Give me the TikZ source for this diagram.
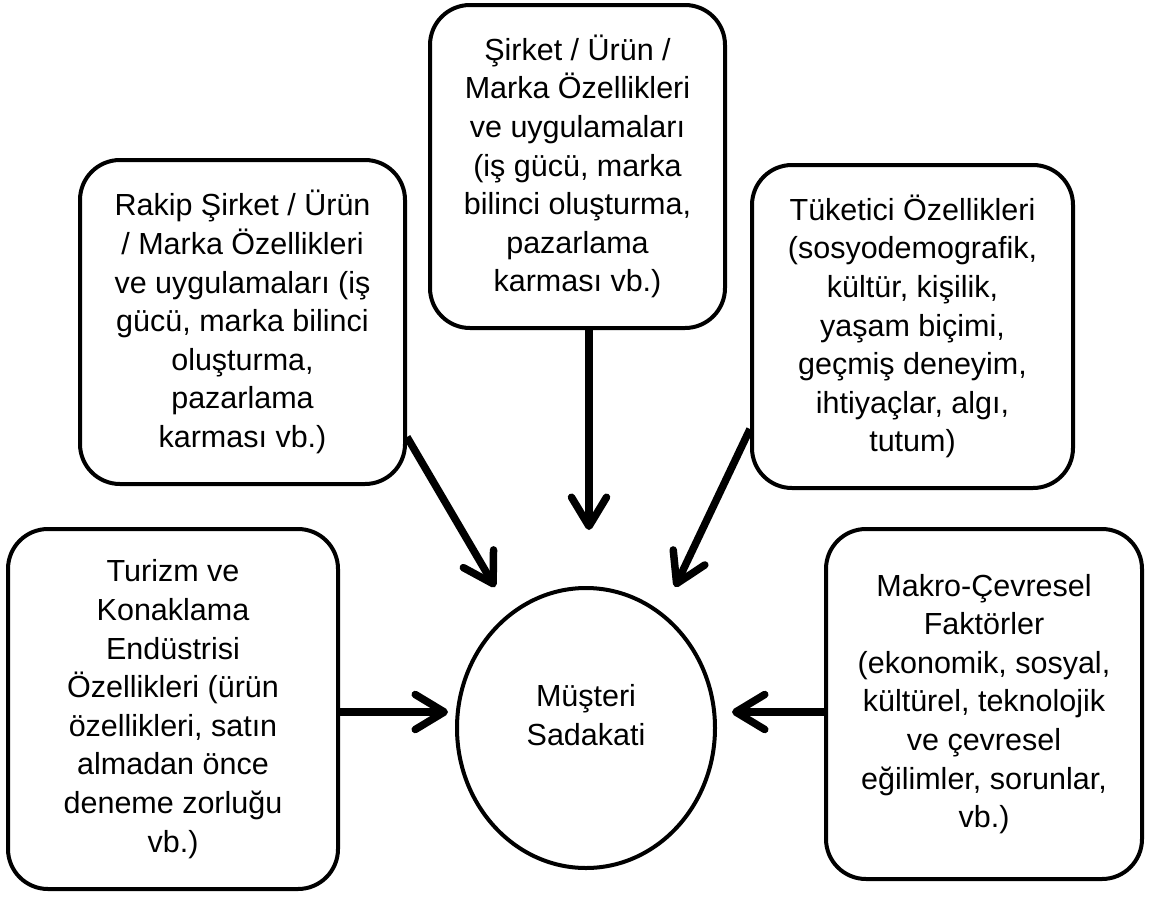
\documentclass[tikz,border=0pt]{standalone}
\usepackage{fontspec}
\setmainfont{Liberation Sans}
\usetikzlibrary{arrows.meta,shapes.geometric,calc}
\begin{document}
\begin{tikzpicture}[x=1pt,y=-1pt,
  txt/.style={align=center, font=\fontsize{30.5}{38.6}\selectfont},
  box/.style={txt, draw, line width=4pt, rounded corners=40pt, inner sep=0pt},
  oval/.style={draw, ellipse, line width=4pt, inner sep=0pt},
  arr/.style={line width=7.5pt, -{Straight Barb[length=29pt,width=35pt,round]}}]
\useasboundingbox (0,0) rectangle (1149,897);

% factor boxes
\node[box, minimum width=295pt, minimum height=323pt] (firm) at (577.5,166.5)
  {Şirket / Ürün /\\Marka Özellikleri\\ve uygulamaları\\(iş gücü, marka\\bilinci oluşturma,\\pazarlama\\karması vb.)};
\node[box, minimum width=325pt, minimum height=324pt] (rival) at (242.5,322)
  {Rakip Şirket / Ürün\\/ Marka Özellikleri\\ve uygulamaları (iş\\gücü, marka bilinci\\oluşturma,\\pazarlama\\karması vb.)};
\node[box, minimum width=321pt, minimum height=323pt] (consumer) at (912.5,326.5)
  {Tüketici Özellikleri\\(sosyodemografik,\\kültür, kişilik,\\yaşam biçimi,\\geçmiş deneyim,\\ihtiyaçlar, algı,\\tutum)};
\node[box, minimum width=330pt, minimum height=360pt] (tourism) at (173,709)
  {Turizm ve\\Konaklama\\Endüstrisi\\Özellikleri (ürün\\özellikleri, satın\\almadan önce\\deneme zorluğu\\vb.)};
\node[box, minimum width=316pt, minimum height=350pt] (macro) at (984,704)
  {Makro-Çevresel\\Faktörler\\(ekonomik, sosyal,\\kültürel, teknolojik\\ve çevresel\\eğilimler, sorunlar,\\vb.)};

% central outcome
\node[oval, minimum width=258pt, minimum height=280pt] (loyal) at (586,728) {};
\node[txt] (loyaltxt) at (586,715) {Müşteri\\Sadakati};

% arrow tips
\coordinate (tipT) at (589,530);
\coordinate (tipUL) at (495,587);
\coordinate (tipUR) at (675,587);
\coordinate (tipL) at (448,712);
\coordinate (tipR) at (732,712);

\draw[arr] (tipT |- firm.south) -- (tipT);
\draw[arr] ([yshift=49pt]rival.south east) -- (tipUL);
\draw[arr] ([yshift=61pt]consumer.south west) -- (tipUR);
\draw[arr] (tourism.east |- tipL) -- (tipL);
\draw[arr] (macro.west |- tipR) -- (tipR);
\end{tikzpicture}
\end{document}
